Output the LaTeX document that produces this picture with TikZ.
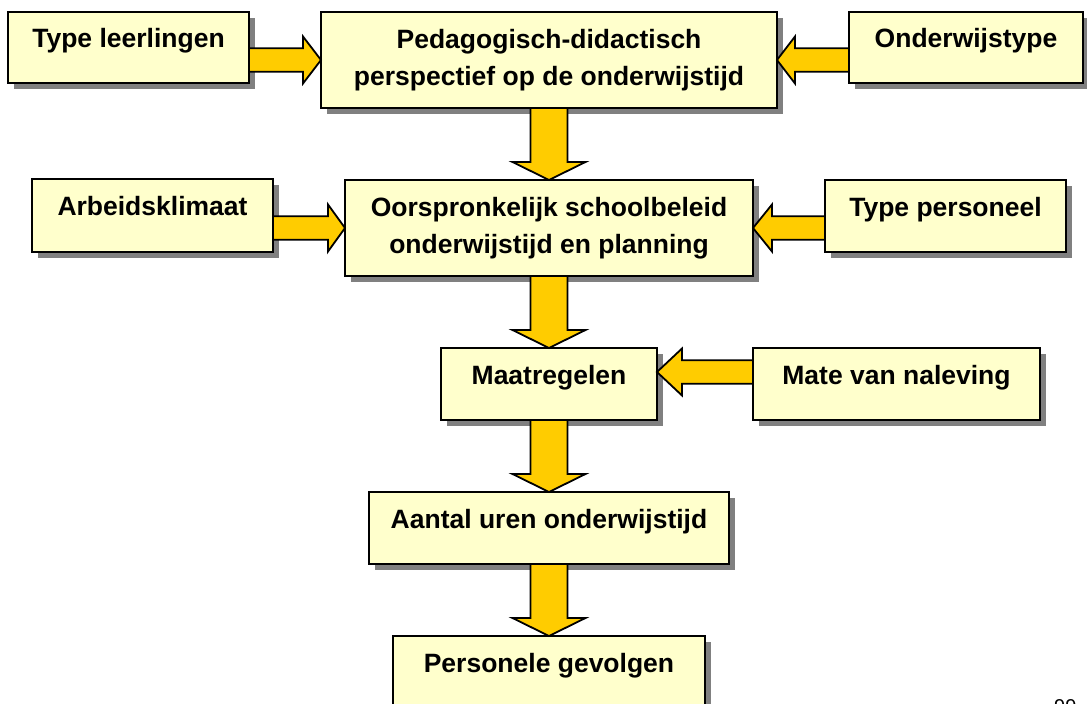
\documentclass[tikz,border=0pt]{standalone}
\usepackage{fontspec}
\setmainfont{Liberation Sans}
\usetikzlibrary{calc,shadows}
\definecolor{boxfill}{HTML}{FFFFCC}
\definecolor{arrowfill}{HTML}{FFCC00}
\definecolor{shadowgray}{HTML}{808080}
\tikzset{
  box/.style={draw=black, line width=1.8pt, fill=boxfill, anchor=north west,
    inner sep=0pt, outer sep=0pt, align=center,
    font=\bfseries\fontsize{26.5pt}{37pt}\selectfont,
    drop shadow={shadow xshift=6pt, shadow yshift=-6pt, fill=shadowgray, opacity=1}},
  oneline/.style={text height=19pt, text depth=19pt},
  arr/.style={draw=black, line width=1.8pt, fill=arrowfill, line join=miter},
}
% right-pointing arrow: #1 source (x used), #2 tip, #3 head length
\newcommand\rarrow[3]{\filldraw[arr] let \p1=(#1),\p2=(#2) in
  (\x1,\y2+11.75pt) -- ({\x2-#3},\y2+11.75pt) -- ({\x2-#3},\y2+23.5pt) -- (\x2,\y2)
  -- ({\x2-#3},\y2-23.5pt) -- ({\x2-#3},\y2-11.75pt) -- (\x1,\y2-11.75pt) -- cycle;}
% left-pointing arrow
\newcommand\larrow[3]{\filldraw[arr] let \p1=(#1),\p2=(#2) in
  (\x1,\y2+11.75pt) -- ({\x2+#3},\y2+11.75pt) -- ({\x2+#3},\y2+23.5pt) -- (\x2,\y2)
  -- ({\x2+#3},\y2-23.5pt) -- ({\x2+#3},\y2-11.75pt) -- (\x1,\y2-11.75pt) -- cycle;}
% down arrow from #1.south to #2.north
\newcommand\darrow[2]{\filldraw[arr] let \p1=(#1.south),\p2=(#2.north) in
  ({\x1-18.5pt},\y1) -- ({\x1-18.5pt},\y2+18pt) -- ({\x1-36.5pt},\y2+18pt) -- (\x1,\y2)
  -- ({\x1+36.5pt},\y2+18pt) -- ({\x1+18.5pt},\y2+18pt) -- ({\x1+18.5pt},\y1) -- cycle;}
\begin{document}
\begin{tikzpicture}[x=1pt,y=-1pt]
\fill[white] (0,0) rectangle (1087,704);
\useasboundingbox (0,0) rectangle (1087,704);

\node[box, oneline, minimum width=241pt, minimum height=71pt] (tl) at (8,12) {Type leerlingen};
\node[box, minimum width=456pt, minimum height=96pt] (ped) at (321,12) {Pedagogisch-didactisch\\perspectief op de onderwijstijd};
\node[box, oneline, minimum width=234pt, minimum height=71pt] (ow) at (849,12) {Onderwijstype};

\node[box, oneline, minimum width=241pt, minimum height=73pt] (arb) at (32,179) {Arbeidsklimaat};
\node[box, minimum width=408pt, minimum height=96pt] (oor) at (345,180) {Oorspronkelijk schoolbeleid\\onderwijstijd en planning};
\node[box, oneline, minimum width=241pt, minimum height=72pt] (tp) at (825,180) {Type personeel};

\node[box, oneline, minimum width=216pt, minimum height=72pt] (maat) at (441,348) {Maatregelen};
\node[box, oneline, minimum width=287pt, minimum height=72pt] (mate) at (753,348) {Mate van naleving};

\node[box, oneline, minimum width=360pt, minimum height=72pt] (aantal) at (369,492) {Aantal uren onderwijstijd};
\node[box, oneline, minimum width=312pt, minimum height=72pt] (pers) at (393,636) {Personele gevolgen};

\node[anchor=north west, inner sep=0pt, font=\fontsize{20pt}{24pt}\selectfont] (pg) at (1054,699) {99};

\rarrow{tl.east}{ped.west}{18pt}
\larrow{ow.west}{ped.east}{18pt}
\rarrow{arb.east}{oor.west}{17pt}
\larrow{tp.west}{oor.east}{19pt}
\larrow{mate.west}{$(maat.east)+(0,-12)$}{25pt}
\darrow{ped}{oor}
\darrow{oor}{maat}
\darrow{maat}{aantal}
\darrow{aantal}{pers}
\end{tikzpicture}
\end{document}
